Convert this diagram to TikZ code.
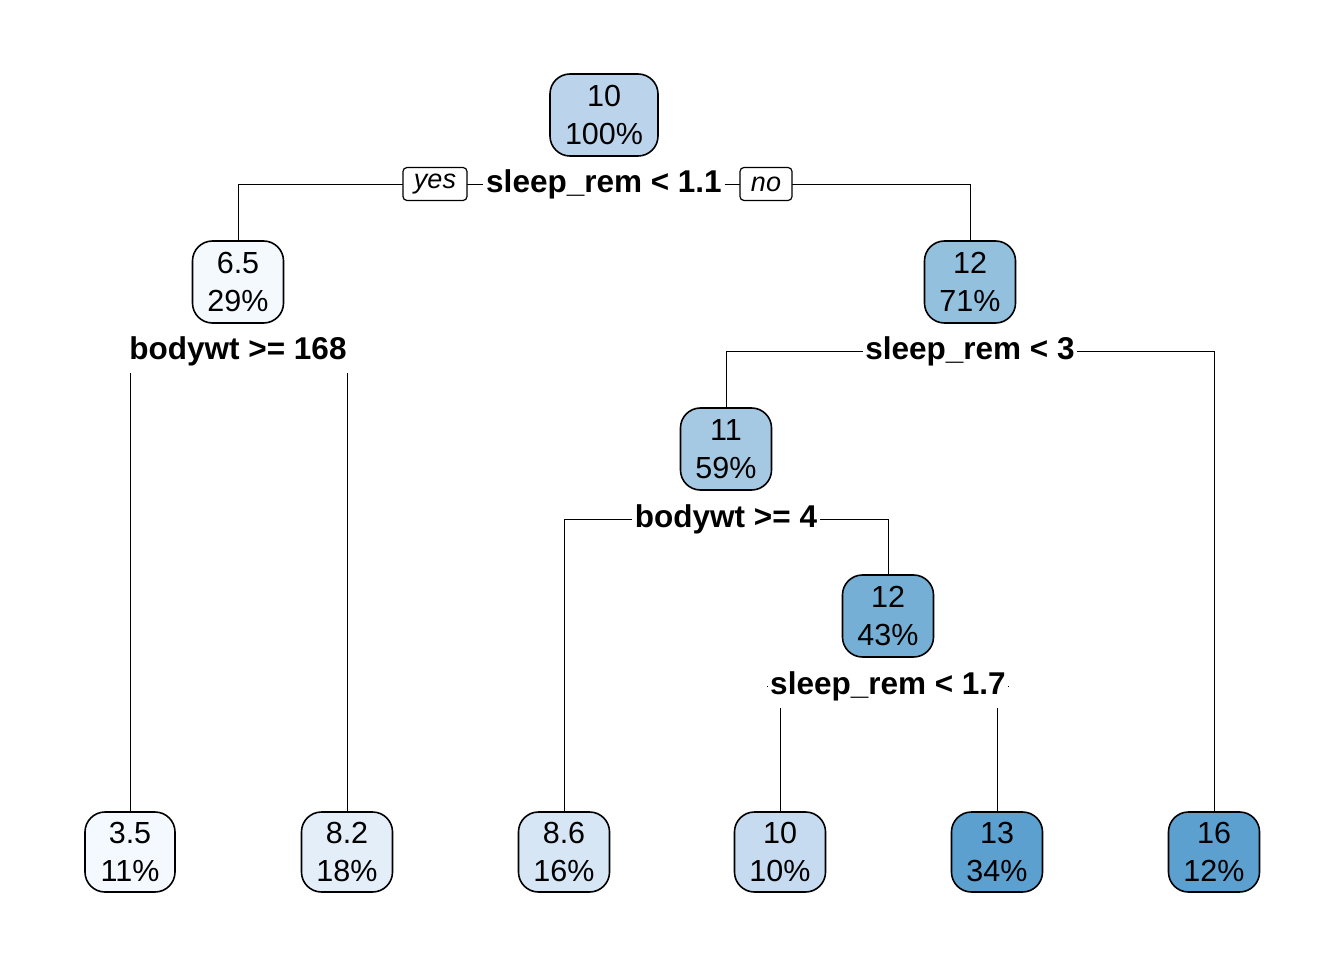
\documentclass[tikz,border=0pt]{standalone}
\usepackage{fontspec}
\setmainfont{Liberation Sans}
\usetikzlibrary{backgrounds}

\definecolor{cRoot}{HTML}{BBD4EC}
\definecolor{cLeft}{HTML}{F4F9FE}
\definecolor{cRight}{HTML}{92C0DD}
\definecolor{cMid}{HTML}{A6C9E3}
\definecolor{cDeep}{HTML}{76AFD5}
\definecolor{cA}{HTML}{F4F9FF}
\definecolor{cB}{HTML}{E4EEF8}
\definecolor{cC}{HTML}{D6E6F4}
\definecolor{cD}{HTML}{C6DBEF}
\definecolor{cE}{HTML}{5BA0CF}

\begin{document}
\begin{tikzpicture}[x=1pt, y=-1pt, line width=1.6pt,
  treenode/.style={draw, rounded corners=20pt, align=center,
    minimum width=90pt, minimum height=82pt, inner xsep=15pt,
    font=\fontsize{30.5}{38}\selectfont},
  splitlabel/.style={fill=white, inner xsep=2pt, inner ysep=0pt,
    minimum height=44pt, font=\fontsize{31.5}{36}\selectfont\bfseries},
  answer/.style={draw, fill=white, rounded corners=4pt, line width=1.2pt,
    minimum height=33pt, inner xsep=11pt, inner ysep=0pt,
    font=\fontsize{27}{30}\selectfont\itshape}]
  \useasboundingbox (0,0) rectangle (1344,960);

  % Draw inner nodes
  \node[treenode, fill=cRoot] (root) at (604,115) {10\\100\%};
  \node[treenode, fill=cLeft] (n65) at (238,282) {6.5\\29\%};
  \node[treenode, fill=cRight] (n12a) at (970,282) {12\\71\%};
  \node[treenode, fill=cMid] (n11) at (726,449) {11\\59\%};
  \node[treenode, fill=cDeep] (n12b) at (888,616) {12\\43\%};

  % Draw leaves
  \node[treenode, fill=cA, minimum height=80pt] (l35) at (130,852) {3.5\\11\%};
  \node[treenode, fill=cB, minimum height=80pt] (l82) at (347,852) {8.2\\18\%};
  \node[treenode, fill=cC, minimum height=80pt] (l86) at (564,852) {8.6\\16\%};
  \node[treenode, fill=cD, minimum height=80pt] (l10) at (780,852) {10\\10\%};
  \node[treenode, fill=cE, minimum height=80pt] (l13) at (997,852) {13\\34\%};
  \node[treenode, fill=cE, minimum height=80pt] (l16) at (1214,852) {16\\12\%};

  % Split labels
  \node[splitlabel] (s1) at (604,184) {sleep\_rem < 1.1};
  \node[splitlabel] (s2) at (238,351) {bodywt >= 168};
  \node[splitlabel] (s3) at (970,351) {sleep\_rem < 3};
  \node[splitlabel] (s4) at (726,519) {bodywt >= 4};
  \node[splitlabel] (s5) at (888,686) {sleep\_rem < 1.7};

  % yes / no tags on the first split
  \node[answer] (yes) at (435,184) {yes};
  \node[answer] (no) at (766,184) {no};

  % Branches behind the labels
  \begin{scope}[on background layer]
    \draw (n65.north) |- (s1) -| (n12a.north);
    \draw (l35.north) |- (s2) -| (l82.north);
    \draw (n11.north) |- (s3) -| (l16.north);
    \draw (l86.north) |- (s4) -| (n12b.north);
    \draw (l10.north) |- (s5) -| (l13.north);
  \end{scope}
\end{tikzpicture}
\end{document}
